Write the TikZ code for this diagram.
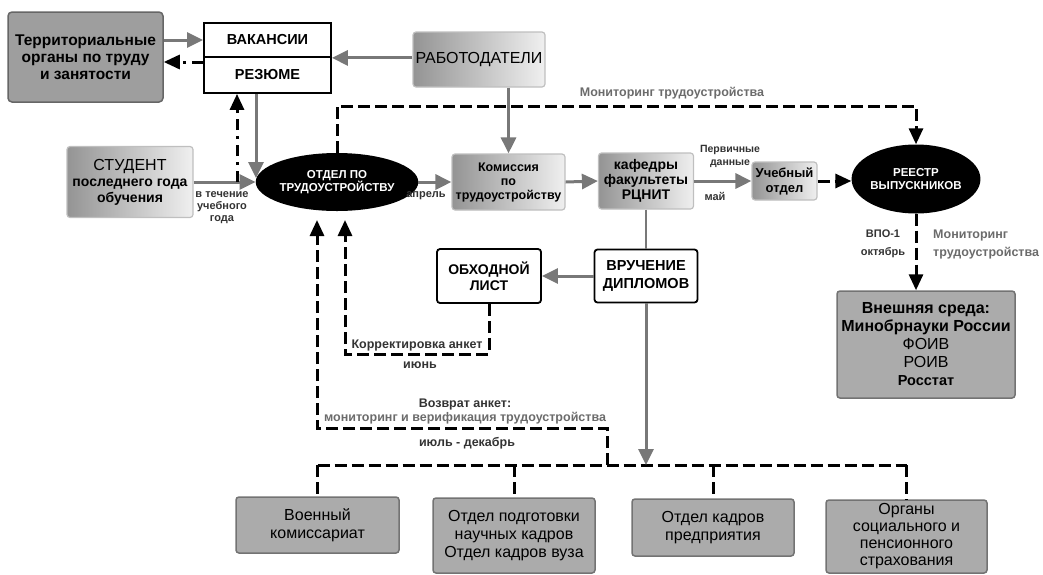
\documentclass[tikz,border=0pt]{standalone}
\usepackage{fontspec}
\setmainfont{Liberation Sans}
\usetikzlibrary{arrows.meta, positioning, shapes.geometric, calc}
\tikzset{
    grayblock/.style={
        rectangle,
        draw=black!60,
        line width=1.5pt,
        rounded corners=4pt,
        fill=black!38,
        align=center,
        font=\fontsize{15.5}{17}\selectfont\bfseries
    },
    shadeblock/.style={
        rectangle,
        draw=black!25,
        line width=1.2pt,
        rounded corners=3pt,
        left color=black!42,
        right color=black!6,
        align=center,
        inner sep=2pt,
        font=\fontsize{14}{15}\selectfont\bfseries
    },
    whitebox/.style={
        rectangle,
        draw=black,
        line width=1.8pt,
        fill=white,
        align=center,
        font=\fontsize{14.5}{17}\selectfont\bfseries
    },
    oval/.style={
        ellipse,
        fill=black,
        inner sep=0pt,
        text=white,
        align=center,
        font=\fontsize{11.5}{13}\selectfont\bfseries
    },
    orgbox/.style={
        rectangle,
        draw=black!55,
        line width=1.5pt,
        rounded corners=3pt,
        fill=black!33,
        align=center,
        font=\fontsize{16}{18}\selectfont
    },
    wire/.style={
        draw=black!53,
        line width=3pt,
        -{Triangle[length=16pt,width=15pt]}
    },
    dashwire/.style={
        draw=black,
        line width=3pt,
        dash pattern=on 12pt off 5pt,
        -{Triangle[length=16pt,width=14pt]}
    },
    dashline/.style={
        dashwire,
        -
    },
    dotwire/.style={
        draw=black,
        line width=3pt,
        dash pattern=on 11pt off 6pt on 3pt off 6pt,
        -{Triangle[length=16pt,width=14pt]}
    },
    note/.style={
        font=\fontsize{11}{12}\selectfont\bfseries,
        text=black!80,
        align=center,
        inner sep=1pt
    },
    midnote/.style={
        note,
        font=\fontsize{12.5}{14}\selectfont\bfseries
    },
    graynote/.style={
        midnote,
        text=black!58
    }
}

\begin{document}
\begin{tikzpicture}[x=1pt, y=-1pt]
\useasboundingbox (0,0) rectangle (1043,574);

% Top row
\node[grayblock, minimum width=155pt, minimum height=90pt] (terr) at (85.5,57) {Территориальные\\органы по труду\\и занятости};
\node[whitebox, minimum width=127pt, minimum height=34pt] (vak) at (267.5,40) {ВАКАНСИИ};
\node[whitebox, minimum width=127pt, minimum height=36pt] (rez) at (267.5,75) {РЕЗЮМЕ};
\node[shadeblock, minimum width=132pt, minimum height=55pt, font=\fontsize{16}{17}\selectfont] (rabot) at (479,59.5) {РАБОТОДАТЕЛИ};

% Main row
\node[shadeblock, minimum width=126pt, minimum height=71pt, font=\fontsize{14}{16}\selectfont\bfseries] (student) at (130,182) {{\mdseries\fontsize{16}{18}\selectfont СТУДЕНТ}\\последнего года\\обучения};
\node[oval, minimum width=130pt, minimum height=58pt] (otdel) at (337,182) {ОТДЕЛ ПО\\ТРУДОУСТРОЙСТВУ};
\node[shadeblock, minimum width=113pt, minimum height=56pt, font=\fontsize{12.5}{14}\selectfont\bfseries] (komis) at (508.5,182) {Комиссия\\по\\трудоустройству};
\node[shadeblock, minimum width=95pt, minimum height=56pt] (kaf) at (646,181) {кафедры\\факультеты\\РЦНИТ};
\node[shadeblock, minimum width=65pt, minimum height=38pt, font=\fontsize{13}{15}\selectfont\bfseries] (ucheb) at (784.5,181) {Учебный\\отдел};
\node[oval, minimum width=120pt, minimum height=69pt] (reestr) at (916,179) {РЕЕСТР\\ВЫПУСКНИКОВ};

% Middle part
\node[whitebox, rounded corners=3pt, minimum width=104pt, minimum height=54pt, font=\fontsize{14}{16}\selectfont\bfseries] (obhod) at (489,276) {ОБХОДНОЙ\\ЛИСТ};
\node[whitebox, rounded corners=3pt, minimum width=103pt, minimum height=53pt, font=\fontsize{14.5}{18}\selectfont\bfseries] (vruch) at (646,276) {ВРУЧЕНИЕ\\ДИПЛОМОВ};
\node[orgbox, minimum width=178pt, minimum height=107pt, font=\fontsize{16}{18}\selectfont\bfseries] (vneshn) at (926,344.5) {Внешняя среда:\\Минобрнауки России\\{\mdseries ФОИВ}\\{\mdseries РОИВ}\\{\fontsize{14.5}{15}\selectfont Росстат}};

% Bottom row
\node[orgbox, minimum width=163pt, minimum height=56pt] (voen) at (317.5,525) {Военный\\комиссариат};
\node[orgbox, minimum width=162pt, minimum height=75pt] (podg) at (514,535.5) {Отдел подготовки\\научных кадров\\Отдел кадров вуза};
\node[orgbox, minimum width=162pt, minimum height=57pt] (kadr) at (713,527.5) {Отдел кадров\\предприятия};
\node[orgbox, minimum width=161pt, minimum height=73pt, font=\fontsize{16}{17}\selectfont] (organ) at (906.5,536.5) {Органы\\социального и\\пенсионного\\страхования};

% Labels
\node[note] (l_year) at (222,208) {в течение\\учебного\\года};
\node[note] (l_apr) at (426,196) {апрель};
\node[note, font=\fontsize{10.5}{13}\selectfont\bfseries] (l_prim) at (730,156.5) {Первичные\\данные};
\node[note] (l_may) at (715,196) {май};
\node[graynote] (l_mon) at (672,93) {Мониторинг трудоустройства};
\node[note, font=\fontsize{11}{18}\selectfont\bfseries] (l_vpo) at (883,244) {ВПО-1\\октябрь};
\node[graynote, align=left, anchor=west, font=\fontsize{12.5}{18}\selectfont\bfseries] (l_mon2) at (932,244) {Мониторинг\\трудоустройства};
\node[midnote] (l_korr) at (417,345) {Корректировка анкет};
\node[midnote] (l_jun) at (420,365) {июнь};
\node[midnote] (l_vozv) at (465,404) {Возврат анкет:};
\node[graynote] (l_verif) at (465,418) {мониторинг и верификация трудоустройства};
\node[midnote] (l_jul) at (467,443) {июль - декабрь};

% Connections top
\draw[wire] (terr.east |- vak) -- (vak.west);
\draw[dotwire] ([yshift=13pt]rez.west) -- ([yshift=13pt]rez.west -| terr.east);
\draw[wire] (rabot.west |- vak.south) -- (vak.south east);
\draw[wire] (rabot.south -| komis) -- (komis.north);

% Connections main row
\coordinate (jn) at (237,182);
\coordinate (rezin) at (256,178);
\draw[wire] (student.east) -- (otdel.west);
\draw[dotwire] (jn) -- (jn |- rez.south);
\draw[wire] (rez.south -| rezin) -- (rezin);
\draw[wire] (otdel.east) -- (komis.west);
\draw[wire] (komis.east) -- (kaf.west);
\draw[wire] (kaf.east) -- (kaf.east -| ucheb.west);
\draw[dashwire] (ucheb.east) -- (ucheb.east -| reestr.west);

% Monitoring
\coordinate (montop) at (630,106);
\draw[dashwire] (otdel.north) |- (montop) -| (reestr.north);
\draw[dashwire] (reestr.south) -- (reestr.south |- vneshn.north);

% Bus to bottom boxes
\coordinate (bus) at (646,465);
\draw[dashline] (voen.north |- bus) -- (organ.north |- bus);
\foreach \n in {voen, podg, kadr, organ}
    \draw[dashline] (\n.north |- bus) -- (\n.north);

% Diplomas
\draw[wire, -, line width=2.4pt] (kaf.south) -- (vruch.north);
\draw[wire] (vruch.south) -- (bus);
\draw[wire] (vruch.west) -- (obhod.east);

% Return paths
\coordinate (korr) at (345,354);
\coordinate (otdin2) at (345,220);
\draw[dashwire] (obhod.south) |- (korr) -- (otdin2);
\coordinate (vozv) at (607,428);
\coordinate (otdin1) at (317,220);
\draw[dashwire] (vozv |- bus) -- (vozv) -| (otdin1);

\end{tikzpicture}
\end{document}
